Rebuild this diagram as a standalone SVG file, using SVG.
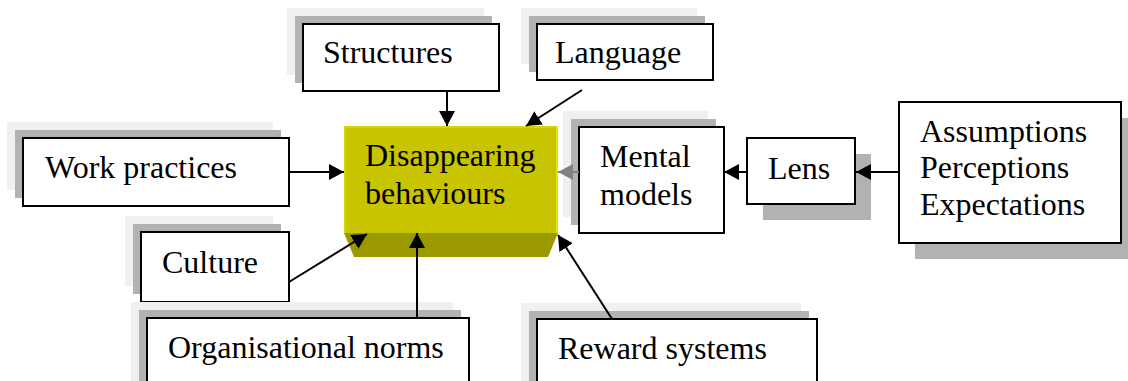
<svg xmlns="http://www.w3.org/2000/svg" width="1128" height="381" viewBox="0 0 1128 381">
<style>
.box{fill:#ffffff;stroke:#000000;stroke-width:2}
.sd{fill:#b2b2b2}
.sl{fill:#f0f0f0}
text{font-family:'Liberation Serif',serif;font-size:32px;fill:#000000}
.c{stroke:#000000;stroke-width:2;fill:none;marker-end:url(#ah)}
.cg{stroke:#808080;stroke-width:2;fill:none;marker-end:url(#ahg)}
</style>
<defs>
<marker id="ah" markerUnits="userSpaceOnUse" markerWidth="16" markerHeight="16" refX="15" refY="8" orient="auto"><path d="M0,0 L15,8 L0,16 z" fill="#000000"/></marker>
<marker id="ahg" markerUnits="userSpaceOnUse" markerWidth="16" markerHeight="16" refX="15" refY="8" orient="auto"><path d="M0,0 L15,8 L0,16 z" fill="#808080"/></marker>
</defs>
<rect width="1128" height="381" fill="#ffffff"/>

<g id="structures">
<rect class="sl" x="287" y="8" width="197" height="67"/>
<rect class="sd" x="295" y="16" width="197" height="67"/>
<rect class="box" x="303" y="24" width="196" height="67"/>
<text x="323" y="63">Structures</text>
</g>

<g id="language">
<rect class="sl" x="521" y="8" width="176" height="56"/>
<rect class="sd" x="529" y="16" width="176" height="56"/>
<rect class="box" x="537" y="24" width="176" height="56"/>
<text x="555" y="63">Language</text>
</g>

<g id="work-practices">
<rect class="sl" x="7" y="122" width="266" height="68"/>
<rect class="sd" x="15" y="130" width="266" height="68"/>
<rect class="box" x="23" y="138" width="266" height="68"/>
<text x="45" y="178">Work practices</text>
</g>

<g id="culture">
<rect class="sl" x="125" y="216" width="148" height="70"/>
<rect class="sd" x="133" y="224" width="148" height="70"/>
<rect class="box" x="141" y="232" width="148" height="70"/>
<text x="162" y="273">Culture</text>
</g>

<g id="organisational-norms">
<rect class="sl" x="131" y="302" width="322" height="90"/>
<rect class="sd" x="139" y="310" width="322" height="90"/>
<rect class="box" x="147" y="318" width="322" height="90"/>
<text x="168" y="358">Organisational norms</text>
</g>

<g id="reward-systems">
<rect class="sl" x="521" y="303" width="280" height="90"/>
<rect class="sd" x="529" y="311" width="280" height="90"/>
<rect class="box" x="537" y="319" width="280" height="90"/>
<text x="558" y="359">Reward systems</text>
</g>

<g id="disappearing-behaviours">
<polygon points="344,233 558,233 548,257 354,257" fill="#9c9900"/>
<rect x="344" y="126" width="214" height="107" fill="#c8c400"/>
<line x1="344" y1="127" x2="558" y2="127" stroke="#d8d400" stroke-width="2"/>
<line x1="345" y1="126" x2="345" y2="233" stroke="#d8d400" stroke-width="2"/>
<line x1="557" y1="126" x2="557" y2="233" stroke="#e8e400" stroke-width="2"/>
<text x="365" y="166">Disappearing</text>
<text x="365" y="204">behaviours</text>
</g>

<g id="mental-models">
<rect class="sl" x="563" y="111" width="145" height="106"/>
<rect class="sd" x="571" y="119" width="145" height="106"/>
<rect class="box" x="579" y="127" width="145" height="106"/>
<text x="600" y="167">Mental</text>
<text x="600" y="205">models</text>
</g>

<g id="lens">
<rect class="sd" x="763" y="154" width="108" height="66"/>
<rect class="box" x="747" y="138" width="108" height="66"/>
<text x="768" y="179">Lens</text>
</g>

<g id="assumptions">
<rect class="sd" x="915" y="118" width="222" height="141"/>
<rect class="box" x="899" y="102" width="222" height="141"/>
<text x="920" y="142">Assumptions</text>
<text x="920" y="178">Perceptions</text>
<text x="920" y="215">Expectations</text>
</g>

<g id="connectors">
<line class="c" x1="447" y1="91" x2="447" y2="126"/>
<line class="c" x1="582" y1="90" x2="526" y2="126"/>
<line class="c" x1="289" y1="172" x2="344" y2="172"/>
<line class="c" x1="289" y1="282" x2="367" y2="234"/>
<line class="c" x1="417" y1="318" x2="417" y2="233"/>
<line class="c" x1="612" y1="319" x2="558" y2="235"/>
<line class="cg" x1="579" y1="172" x2="558" y2="172"/>
<line class="c" x1="747" y1="172" x2="724" y2="172"/>
<line class="c" x1="899" y1="172" x2="856" y2="172"/>
</g>
</svg>
